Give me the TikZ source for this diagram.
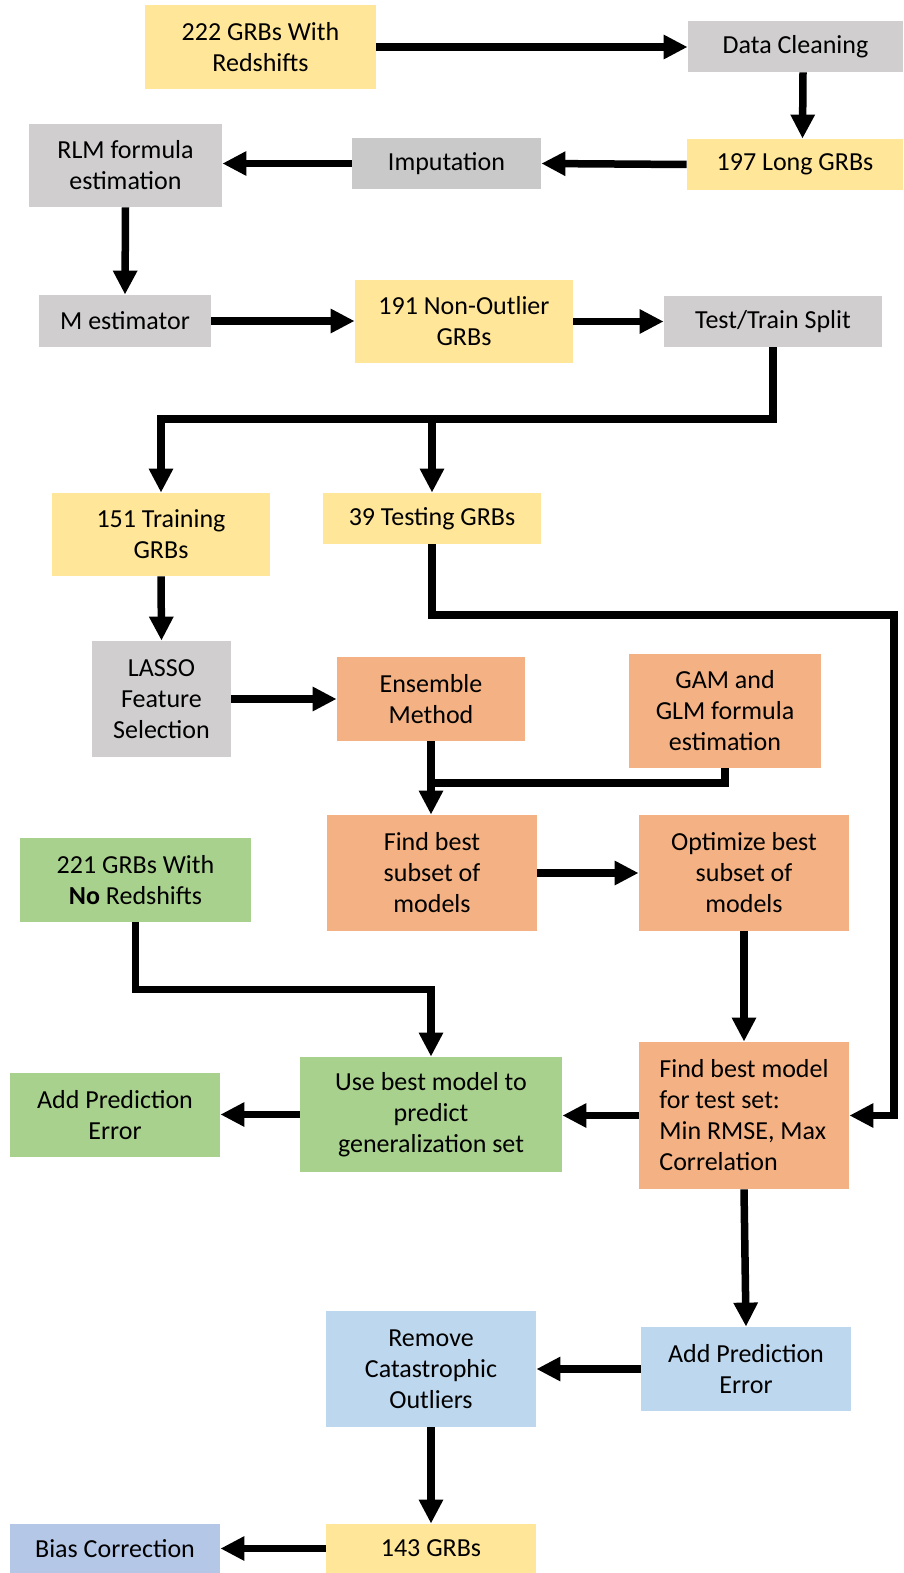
\documentclass[tikz,border=0pt]{standalone}
\usepackage{fontspec}
\setmainfont{Carlito}
\usetikzlibrary{arrows.meta}
\definecolor{cyel}{HTML}{FFE699}
\definecolor{cgray}{HTML}{D0CECE}
\definecolor{cgrayb}{HTML}{C9C9C9}
\definecolor{corg}{HTML}{F4B183}
\definecolor{cgrn}{HTML}{A9D18E}
\definecolor{cblu}{HTML}{BDD7EE}
\definecolor{cbld}{HTML}{B4C7E7}
\tikzset{
  boxst/.style={rectangle, inner sep=0pt, align=center, text=black,
    font=\fontsize{13pt}{15.5pt}\selectfont},
  arr/.style={line width=3.75pt, black, -{Triangle[length=12pt,width=11.5pt]}},
  lin/.style={line width=3.75pt, black}
}
\begin{document}
\begin{tikzpicture}[x=0.5pt,y=-0.5pt]
\useasboundingbox (0,0) rectangle (904,1573);
% boxes
\node[boxst, fill=cyel, minimum width=115.5pt, minimum height=42pt] (a) at (260.5,47) {222 GRBs With\\Redshifts};
\node[boxst, fill=cgray, minimum width=107.5pt, minimum height=25.5pt] (clean) at (795.5,46.5) {Data Cleaning};
\node[boxst, fill=cyel, minimum width=108pt, minimum height=25.5pt] (long) at (795,164.5) {197 Long GRBs};
\node[boxst, fill=cgrayb, minimum width=94.5pt, minimum height=25.5pt] (imp) at (446.5,163.5) {Imputation};
\node[boxst, fill=cgray, minimum width=96.5pt, minimum height=41.5pt] (rlm) at (125.5,165.5) {RLM formula\\estimation};
\node[boxst, fill=cgray, minimum width=86pt, minimum height=26pt] (mest) at (125,321) {M estimator};
\node[boxst, fill=cyel, minimum width=109pt, minimum height=41.5pt] (nono) at (464,321.5) {191 Non-Outlier\\GRBs};
\node[boxst, fill=cgray, minimum width=109pt, minimum height=25.5pt] (split) at (773,321.5) {Test/Train Split};
\node[boxst, fill=cyel, minimum width=109pt, minimum height=41.5pt] (train) at (161,534.5) {151 Training\\GRBs};
\node[boxst, fill=cyel, minimum width=109pt, minimum height=25.5pt] (test) at (432,518.5) {39 Testing GRBs};
\node[boxst, fill=cgray, minimum width=69.5pt, minimum height=58pt] (lasso) at (161.5,699) {LASSO\\Feature\\Selection};
\node[boxst, fill=corg, minimum width=94pt, minimum height=42pt] (ens) at (431,699) {Ensemble\\Method};
\node[boxst, fill=corg, minimum width=96pt, minimum height=57pt] (gam) at (725,711) {GAM and\\GLM formula\\estimation};
\node[boxst, fill=corg, minimum width=105pt, minimum height=58pt] (fbs) at (432,873) {Find best\\subset of\\models};
\node[boxst, fill=corg, minimum width=105pt, minimum height=58pt] (opt) at (744,873) {Optimize best\\subset of\\models};
\node[boxst, fill=cgrn, minimum width=115.5pt, minimum height=42pt] (nored) at (135.5,880) {221 GRBs With\\\textbf{No} Redshifts};
\node[boxst, fill=cgrn, minimum width=131pt, minimum height=57.5pt] (use) at (431,1114.5) {Use best model to\\predict\\generalization set};
\node[boxst, fill=cgrn, minimum width=105pt, minimum height=42pt] (addg) at (115,1115) {Add Prediction\\Error};
\node[boxst, fill=corg, minimum width=105pt, minimum height=73.5pt, align=left] (fbm) at (744,1115.5) {Find best model\\for test set:\\Min RMSE, Max\\Correlation};
\node[boxst, fill=cblu, minimum width=105pt, minimum height=58pt] (rem) at (431,1369) {Remove\\Catastrophic\\Outliers};
\node[boxst, fill=cblu, minimum width=105pt, minimum height=42pt] (addb) at (746,1369) {Add Prediction\\Error};
\node[boxst, fill=cyel, minimum width=105pt, minimum height=24.5pt] (g143) at (431,1548.5) {143 GRBs};
\node[boxst, fill=cbld, minimum width=105pt, minimum height=24.5pt] (bias) at (115,1548.5) {Bias Correction};
% helper coordinates
\coordinate (jt) at (432,419);
\coordinate (rt) at (894,615);
\coordinate (jg) at (431,783);
% connectors
\draw[arr] (a.east) -- (a.east -| clean.west);
\draw[arr] ([xshift=3.75pt]clean.south) -- ([xshift=3.75pt]long.north);
\draw[arr] (long.west) -- (imp.east);
\draw[arr] (imp.west) -- (imp.west -| rlm.east);
\draw[arr] (rlm.south) -- (mest.north);
\draw[arr] (mest.east) -- (mest.east -| nono.west);
\draw[arr] (nono.east) -- (nono.east -| split.west);
\draw[arr] (split.south) |- (jt) -| (train.north);
\draw[arr] (jt) -- (test.north);
\draw[arr] (test.south) |- (rt) |- (fbm.east);
\draw[arr] (train.south) -- (lasso.north);
\draw[arr] (lasso.east) -- (ens.west);
\draw[arr] (ens.south) -- (ens.south |- fbs.north);
\draw[lin] (gam.south) |- (jg);
\draw[arr] (fbs.east) -- (opt.west);
\draw[arr] (opt.south) -- (fbm.north);
\draw[arr] (nored.south) -- ++(0,67) -| (use.north);
\draw[arr] (fbm.west) -- (fbm.west -| use.east);
\draw[arr] (use.west) -- (use.west -| addg.east);
\draw[arr] (fbm.south) -- (addb.north);
\draw[arr] (addb.west) -- (addb.west -| rem.east);
\draw[arr] (rem.south) -- (g143.north);
\draw[arr] (g143.west) -- (bias.east);
\end{tikzpicture}
\end{document}
